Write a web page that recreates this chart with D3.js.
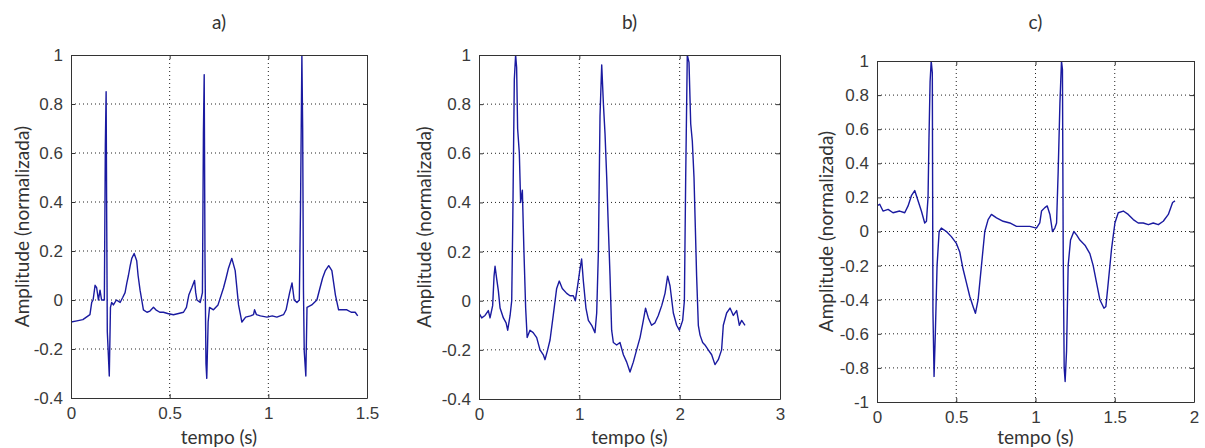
<!DOCTYPE html>
<html><head><meta charset="utf-8">
<script src="https://cdn.jsdelivr.net/npm/d3@7"></script>
<style>body{margin:0;background:#fff}</style>
</head><body>
<svg id="c" width="1205" height="448"></svg>
<script>
// ---- data ----
const titles = ["a)", "b)", "c)"];
const xLabel = "tempo (s)";
const yLabel = "Amplitude (normalizada)";

const aT = [0,0.03,0.06,0.096,0.105,0.112,0.122,0.13,0.139,0.147,0.155,0.169,0.174,0.178,0.181,0.184,0.188,0.194,0.2,0.206,0.215,0.23,0.249,0.262,0.274,0.283,0.291,0.3,0.308,0.32,0.333,0.34,0.35,0.367,0.385,0.4,0.418,0.43,0.45,0.468,0.49,0.519,0.545,0.57,0.585,0.597,0.612,0.626,0.632,0.638,0.655,0.666,0.671,0.675,0.679,0.684,0.688,0.695,0.702,0.722,0.745,0.773,0.786,0.798,0.815,0.832,0.849,0.866,0.885,0.91,0.925,0.93,0.94,0.96,0.993,1.02,1.043,1.077,1.09,1.108,1.12,1.131,1.145,1.157,1.163,1.17,1.174,1.178,1.182,1.19,1.196,1.22,1.246,1.262,1.275,1.289,1.306,1.322,1.34,1.356,1.375,1.398,1.42,1.44,1.453];
const aV = [-0.09,-0.085,-0.08,-0.06,-0.01,0.0,0.06,0.05,0.0,0.04,0.0,0.0,0.63,0.85,0.32,-0.13,-0.2,-0.31,-0.03,-0.01,-0.02,0.0,-0.01,0.01,0.03,0.07,0.1,0.14,0.17,0.19,0.16,0.1,0.04,-0.04,-0.05,-0.045,-0.03,-0.04,-0.05,-0.05,-0.055,-0.06,-0.055,-0.05,-0.03,0.02,0.05,0.08,0.03,0.0,-0.01,0.03,0.68,0.92,0.17,-0.26,-0.32,-0.09,-0.03,-0.04,-0.02,0.05,0.09,0.13,0.17,0.12,-0.02,-0.09,-0.07,-0.065,-0.06,-0.04,-0.06,-0.065,-0.07,-0.065,-0.07,-0.06,-0.04,0.03,0.07,0.0,-0.01,0.0,0.37,1.0,0.7,0.04,-0.21,-0.31,-0.03,-0.02,0.0,0.05,0.09,0.12,0.14,0.12,0.02,-0.04,-0.04,-0.04,-0.05,-0.05,-0.065];

const bT = [0,0.027,0.06,0.093,0.11,0.136,0.15,0.16,0.176,0.193,0.21,0.243,0.27,0.286,0.31,0.326,0.336,0.352,0.365,0.375,0.385,0.402,0.415,0.432,0.448,0.465,0.48,0.508,0.54,0.575,0.608,0.641,0.658,0.684,0.708,0.74,0.774,0.80,0.83,0.874,0.907,0.94,0.96,0.983,1.007,1.023,1.04,1.066,1.09,1.123,1.156,1.173,1.19,1.206,1.223,1.24,1.256,1.273,1.289,1.306,1.322,1.339,1.372,1.405,1.439,1.472,1.505,1.538,1.571,1.605,1.638,1.66,1.688,1.72,1.754,1.787,1.821,1.854,1.88,1.904,1.937,1.97,1.997,2.03,2.047,2.06,2.076,2.093,2.11,2.126,2.143,2.156,2.169,2.186,2.203,2.229,2.252,2.285,2.319,2.352,2.385,2.418,2.435,2.468,2.502,2.535,2.568,2.595,2.618,2.651];
const bV = [-0.05,-0.07,-0.06,-0.04,-0.07,-0.02,0.1,0.14,0.09,0.04,-0.03,-0.07,-0.09,-0.12,-0.06,0.0,0.3,0.9,1.0,0.95,0.7,0.6,0.4,0.45,0.2,-0.03,-0.15,-0.12,-0.13,-0.15,-0.2,-0.22,-0.24,-0.2,-0.16,-0.06,0.05,0.08,0.05,0.03,0.02,0.02,0.0,0.06,0.13,0.17,0.08,-0.03,-0.08,-0.1,-0.13,-0.05,0.2,0.75,0.96,0.8,0.68,0.5,0.3,0.1,-0.12,-0.17,-0.18,-0.17,-0.22,-0.25,-0.29,-0.25,-0.2,-0.15,-0.08,-0.03,-0.07,-0.1,-0.09,-0.06,-0.02,0.03,0.1,0.06,-0.05,-0.1,-0.12,-0.08,0.0,0.5,1.0,0.97,0.72,0.65,0.5,0.3,0.1,-0.1,-0.14,-0.17,-0.18,-0.2,-0.22,-0.26,-0.24,-0.2,-0.1,-0.05,-0.03,-0.06,-0.04,-0.1,-0.08,-0.1];

const cT = [0,0.017,0.038,0.07,0.101,0.143,0.175,0.196,0.217,0.238,0.259,0.28,0.301,0.312,0.322,0.328,0.335,0.342,0.349,0.353,0.36,0.368,0.379,0.392,0.406,0.438,0.469,0.501,0.522,0.543,0.564,0.585,0.606,0.621,0.638,0.659,0.68,0.701,0.722,0.754,0.796,0.838,0.88,0.922,0.964,1.006,1.027,1.038,1.059,1.074,1.091,1.107,1.122,1.133,1.143,1.154,1.164,1.17,1.175,1.181,1.187,1.196,1.206,1.221,1.242,1.259,1.28,1.312,1.343,1.364,1.385,1.406,1.432,1.444,1.459,1.48,1.501,1.522,1.554,1.585,1.617,1.648,1.68,1.712,1.743,1.775,1.806,1.838,1.865,1.88];
const cV = [0.15,0.16,0.12,0.13,0.11,0.12,0.11,0.15,0.21,0.24,0.18,0.12,0.05,0.06,0.2,0.55,0.88,1.0,0.93,-0.47,-0.85,-0.6,-0.2,0.0,0.02,0.0,-0.03,-0.07,-0.12,-0.22,-0.3,-0.38,-0.44,-0.48,-0.4,-0.2,0.0,0.07,0.1,0.08,0.06,0.05,0.03,0.03,0.03,0.02,0.05,0.12,0.14,0.15,0.1,0.0,0.02,0.05,0.35,0.75,1.0,0.95,-0.15,-0.8,-0.88,-0.7,-0.2,-0.05,0.0,-0.02,-0.05,-0.08,-0.13,-0.2,-0.3,-0.4,-0.45,-0.44,-0.3,-0.1,0.05,0.11,0.12,0.1,0.07,0.05,0.05,0.04,0.05,0.04,0.06,0.1,0.17,0.18];

const aXTicks = [0,0.5,1,1.5], aYTicks = [-0.4,-0.2,0,0.2,0.4,0.6,0.8,1];
const bXTicks = [0,1,2,3],     bYTicks = [-0.4,-0.2,0,0.2,0.4,0.6,0.8,1];
const cXTicks = [0,0.5,1,1.5,2], cYTicks = [-1,-0.8,-0.6,-0.4,-0.2,0,0.2,0.4,0.6,0.8,1];

// ---- layout ----
const panels = [
  {t:aT, v:aV, xd:[0,1.5], yd:[-0.4,1], xt:aXTicks, yt:aYTicks, box:[71,367,55,398], title:titles[0], ylx:22},
  {t:bT, v:bV, xd:[0,3],   yd:[-0.4,1], xt:bXTicks, yt:bYTicks, box:[479,780,55,399], title:titles[1], ylx:424},
  {t:cT, v:cV, xd:[0,2],   yd:[-1,1],   xt:cXTicks, yt:cYTicks, box:[877,1194,61,402], title:titles[2], ylx:826}
];
const svg = d3.select("#c");
const fmt = d => (d===0 ? "0" : String(+d.toFixed(1)));
const labelFont = "Lato, 'Open Sans', sans-serif";
const tickFont = "'Liberation Sans', Arial, sans-serif";

panels.forEach((p,i)=>{
  const [x0,x1,y0,y1] = p.box;
  const x = d3.scaleLinear().domain(p.xd).range([x0,x1]);
  const y = d3.scaleLinear().domain(p.yd).range([y1,y0]);
  const g = svg.append("g");
  // grid
  g.append("g").selectAll("line").data(p.xt.slice(1,-1)).join("line")
    .attr("x1",d=>x(d)).attr("x2",d=>x(d)).attr("y1",y0).attr("y2",y1)
    .attr("stroke","#222").attr("stroke-width",1).attr("stroke-dasharray","1,3");
  g.append("g").selectAll("line").data(p.yt.slice(1,-1)).join("line")
    .attr("y1",d=>y(d)).attr("y2",d=>y(d)).attr("x1",x0).attr("x2",x1)
    .attr("stroke","#222").attr("stroke-width",1).attr("stroke-dasharray","1,3");
  // clip + line
  const cid = "clip"+i;
  svg.append("clipPath").attr("id",cid).append("rect").attr("x",x0).attr("y",y0).attr("width",x1-x0).attr("height",y1-y0);
  const data = p.t.map((t,k)=>[t,p.v[k]]);
  g.append("path").datum(data).attr("clip-path",`url(#${cid})`)
    .attr("d", d3.line().x(d=>x(d[0])).y(d=>y(d[1])))
    .attr("fill","none").attr("stroke","#1a1aa0").attr("stroke-width",1.4).attr("stroke-linejoin","round");
  // axes (MATLAB style, ticks inside)
  const axB = d3.axisBottom(x).tickValues(p.xt).tickSizeInner(-4).tickSizeOuter(0).tickPadding(9).tickFormat(fmt);
  const axL = d3.axisLeft(y).tickValues(p.yt).tickSizeInner(-4).tickSizeOuter(0).tickPadding(8).tickFormat(fmt);
  const axT = d3.axisTop(x).tickValues(p.xt).tickSizeInner(-4).tickSizeOuter(0).tickFormat("");
  const axR = d3.axisRight(y).tickValues(p.yt).tickSizeInner(-4).tickSizeOuter(0).tickFormat("");
  [[axB,`translate(0,${y1})`],[axL,`translate(${x0},0)`],[axT,`translate(0,${y0})`],[axR,`translate(${x1},0)`]].forEach(([ax,tr])=>{
    const a = g.append("g").attr("transform",tr).call(ax);
    a.select(".domain").attr("stroke","#333");
    a.selectAll(".tick line").attr("stroke","#333");
    a.selectAll("text").attr("fill","#3a3a3a").attr("font-family",tickFont).attr("font-size",17);
  });
  // title & labels
  g.append("text").attr("x",(x0+x1)/2).attr("y",29).attr("text-anchor","middle")
    .attr("font-family",labelFont).attr("font-size",19).attr("fill","#333").text(p.title);
  g.append("text").attr("x",(x0+x1)/2).attr("y",444).attr("text-anchor","middle")
    .attr("font-family",labelFont).attr("font-size",19).attr("fill","#333").text(xLabel);
  g.append("text").attr("transform",`translate(${p.ylx},${(y0+y1)/2}) rotate(-90)`).attr("dy","0.35em")
    .attr("text-anchor","middle").attr("font-family",labelFont).attr("font-size",19).attr("fill","#333").text(yLabel);
});
</script>
</body></html>
